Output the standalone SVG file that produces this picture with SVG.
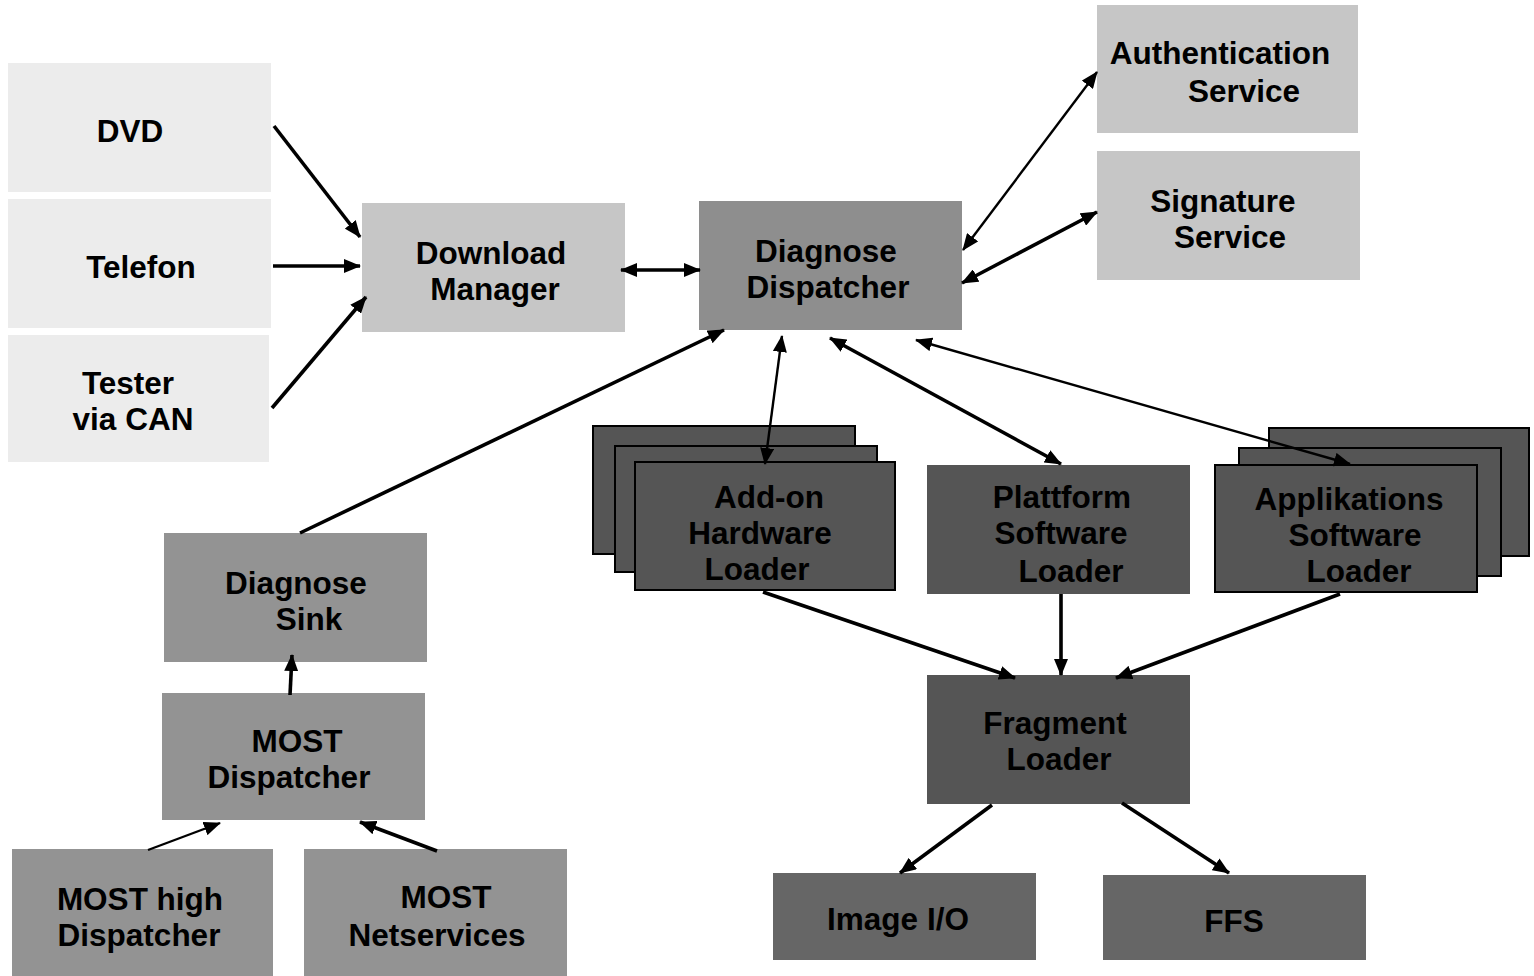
<svg xmlns="http://www.w3.org/2000/svg" width="1534" height="976" viewBox="0 0 1534 976">
<style>
text{font-family:"Liberation Sans",Arial,sans-serif;font-weight:bold;font-size:31.5px;fill:#000;text-anchor:middle}
.l1{fill:#ececec}
.l2{fill:#c6c6c6}
.m1{fill:#8e8e8e}
.m2{fill:#939393}
.d1{fill:#555555}
.d1s{fill:#555555;stroke:#000;stroke-width:2}
.d2{fill:#666666}
.c{stroke:#000;fill:none}
.w3{stroke-width:3.6}
.w2{stroke-width:2.4}
</style>
<defs>
<marker id="ah" markerUnits="userSpaceOnUse" markerWidth="18" markerHeight="14" refX="16" refY="7" orient="auto-start-reverse"><path d="M0,0 L17,7 L0,14 z" fill="#000"/></marker>
</defs>
<rect width="1534" height="976" fill="#fff"/>
<g id="dvd"><rect class="l1" x="8" y="63" width="263" height="129"/><text x="130" y="142">DVD</text></g>
<g id="telefon"><rect class="l1" x="8" y="199" width="263" height="129"/><text x="141" y="278">Telefon</text></g>
<g id="tester"><rect class="l1" x="8" y="335" width="261" height="127"/><text x="128" y="394">Tester</text><text x="133" y="430">via CAN</text></g>
<g id="download-manager"><rect class="l2" x="362" y="203" width="263" height="129"/><text x="491" y="264">Download</text><text x="495" y="300">Manager</text></g>
<g id="diagnose-dispatcher"><rect class="m1" x="699" y="201" width="263" height="129"/><text x="826" y="262">Diagnose</text><text x="828" y="298">Dispatcher</text></g>
<g id="authentication-service"><rect class="l2" x="1097" y="5" width="261" height="128"/><text x="1220" y="64">Authentication</text><text x="1244" y="102">Service</text></g>
<g id="signature-service"><rect class="l2" x="1097" y="151" width="263" height="129"/><text x="1223" y="212">Signature</text><text x="1230" y="248">Service</text></g>
<g id="addon-loader"><rect class="d1s" x="593" y="426" width="262" height="128"/><rect class="d1s" x="615" y="446" width="262" height="126"/><rect class="d1s" x="635" y="462" width="260" height="128"/><text x="769" y="508">Add-on</text><text x="760" y="544">Hardware</text><text x="757" y="580">Loader</text></g>
<g id="plattform-loader"><rect class="d1" x="927" y="465" width="263" height="129"/><text x="1062" y="508">Plattform</text><text x="1061" y="544">Software</text><text x="1071" y="582">Loader</text></g>
<g id="applikations-loader"><rect class="d1s" x="1269" y="428" width="260" height="128"/><rect class="d1s" x="1239" y="448" width="262" height="128"/><rect class="d1s" x="1215" y="465" width="262" height="127"/><text x="1349" y="510">Applikations</text><text x="1355" y="546">Software</text><text x="1359" y="582">Loader</text></g>
<g id="diagnose-sink"><rect class="m2" x="164" y="533" width="263" height="129"/><text x="296" y="594">Diagnose</text><text x="309" y="630">Sink</text></g>
<g id="most-dispatcher"><rect class="m2" x="162" y="693" width="263" height="127"/><text x="297" y="752">MOST</text><text x="289" y="788">Dispatcher</text></g>
<g id="most-high"><rect class="m2" x="12" y="849" width="261" height="127"/><text x="140" y="910">MOST high</text><text x="139" y="946">Dispatcher</text></g>
<g id="most-netservices"><rect class="m2" x="304" y="849" width="263" height="127"/><text x="446" y="908">MOST</text><text x="437" y="946">Netservices</text></g>
<g id="fragment-loader"><rect class="d1" x="927" y="675" width="263" height="129"/><text x="1055" y="734">Fragment</text><text x="1059" y="770">Loader</text></g>
<g id="image-io"><rect class="d2" x="773" y="873" width="263" height="87"/><text x="898" y="930">Image I/O</text></g>
<g id="ffs"><rect class="d2" x="1103" y="875" width="263" height="85"/><text x="1234" y="932">FFS</text></g>
<g id="connectors">
<line class="c w3" x1="274" y1="126" x2="360" y2="237" marker-end="url(#ah)"/>
<line class="c w3" x1="273" y1="266" x2="360" y2="266" marker-end="url(#ah)"/>
<line class="c w3" x1="272" y1="408" x2="366" y2="297" marker-end="url(#ah)"/>
<line class="c w3" x1="621" y1="270" x2="700" y2="270" marker-start="url(#ah)" marker-end="url(#ah)"/>
<line class="c w2" x1="963" y1="250" x2="1097" y2="72" marker-start="url(#ah)" marker-end="url(#ah)"/>
<line class="c w3" x1="962" y1="283" x2="1097" y2="212" marker-start="url(#ah)" marker-end="url(#ah)"/>
<line class="c w3" x1="300" y1="533" x2="724" y2="330" marker-end="url(#ah)"/>
<line class="c w2" x1="782" y1="336" x2="765" y2="464" marker-start="url(#ah)" marker-end="url(#ah)"/>
<line class="c w3" x1="830" y1="338" x2="1061" y2="464" marker-start="url(#ah)" marker-end="url(#ah)"/>
<line class="c w2" x1="916" y1="340" x2="1350" y2="464" marker-start="url(#ah)" marker-end="url(#ah)"/>
<line class="c w3" x1="763" y1="592" x2="1015" y2="678" marker-end="url(#ah)"/>
<line class="c w3" x1="1061" y1="594" x2="1061" y2="675" marker-end="url(#ah)"/>
<line class="c w3" x1="1340" y1="594" x2="1116" y2="678" marker-end="url(#ah)"/>
<line class="c w3" x1="992" y1="805" x2="900" y2="873" marker-end="url(#ah)"/>
<line class="c w3" x1="1122" y1="803" x2="1229" y2="873" marker-end="url(#ah)"/>
<line class="c w3" x1="290" y1="695" x2="292" y2="655" marker-end="url(#ah)"/>
<line class="c w2" x1="148" y1="850" x2="220" y2="823" marker-end="url(#ah)"/>
<line class="c w3" x1="437" y1="851" x2="360" y2="822" marker-end="url(#ah)"/>
</g>
</svg>
